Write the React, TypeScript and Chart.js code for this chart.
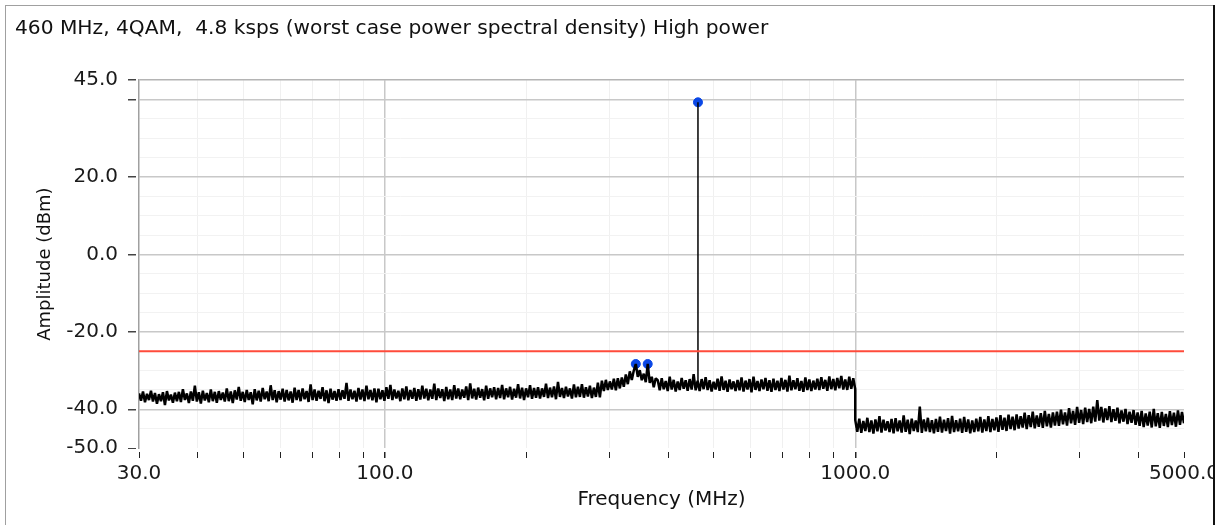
import React, { useEffect, useRef } from "react";
import { Chart, registerables } from "chart.js";

Chart.register(...registerables);

const FONT = "'DejaVu Sans', Verdana, sans-serif";

const titleText = "460 MHz, 4QAM,  4.8 ksps (worst case power spectral density) High power";
const xTitle = "Frequency (MHz)";
const yTitle = "Amplitude (dBm)";

// Sweep 1: 30 MHz .. 1000 MHz (log-spaced sweep points), amplitude in dBm
const lowSweepRange = [30, 1000];
const lowSweepDbm = [
  -35.9, -37.8, -35.4, -38.2, -36.0, -37.6, -35.2, -38.0, -35.8, -38.6, -36.1, -37.9, -35.6, -38.9, -35.3, -37.7, -36.2, -38.3, -35.7, -37.9,
  -35.5, -38.1, -34.8, -37.6, -35.9, -38.4, -35.4, -37.8, -33.9, -38.0, -35.6, -38.5, -35.2, -37.7, -35.8, -38.2, -34.9, -37.9, -35.5, -38.3,
  -35.3, -37.6, -35.7, -38.0, -34.6, -37.9, -35.4, -38.4, -35.1, -37.5, -34.2, -37.8, -35.5, -38.1, -35.0, -37.6, -35.6, -38.7, -34.8, -37.7,
  -35.2, -38.0, -34.5, -37.4, -35.4, -37.9, -33.8, -37.6, -35.1, -38.2, -35.3, -37.5, -34.7, -38.0, -35.0, -37.7, -35.4, -38.3, -34.4, -37.6,
  -35.0, -37.9, -34.6, -37.4, -35.3, -38.1, -33.6, -37.6, -34.9, -37.8, -35.2, -37.3, -34.3, -37.9, -35.1, -38.4, -34.7, -37.5, -35.3, -37.8,
  -34.8, -37.6, -35.1, -37.3, -33.2, -37.8, -34.9, -37.4, -35.2, -38.0, -34.5, -37.5, -34.9, -37.9, -33.9, -37.4, -35.0, -37.7, -34.6, -38.2,
  -34.7, -37.4, -35.1, -37.8, -34.3, -37.3, -33.7, -37.6, -34.9, -37.2, -35.2, -37.9, -34.6, -37.4, -34.1, -37.7, -35.0, -37.3, -34.5, -37.8,
  -34.8, -37.5, -33.9, -37.2, -34.7, -37.7, -34.9, -37.3, -33.4, -37.6, -34.6, -37.1, -34.8, -37.9, -34.2, -37.4, -34.9, -37.6, -33.8, -37.2,
  -34.6, -37.4, -34.9, -37.0, -34.1, -37.6, -33.3, -37.2, -34.7, -37.5, -34.4, -37.0, -34.8, -37.7, -33.9, -37.3, -34.6, -36.9, -34.3, -37.4,
  -34.5, -37.1, -33.7, -37.4, -34.6, -36.9, -34.2, -37.5, -34.7, -37.0, -33.5, -37.2, -34.4, -37.6, -34.6, -36.9, -33.8, -37.3, -34.5, -37.0,
  -34.3, -37.2, -34.6, -36.8, -33.4, -37.1, -34.4, -36.9, -34.1, -37.4, -32.9, -36.8, -34.5, -37.1, -34.2, -36.7, -34.6, -37.2, -33.6, -36.9,
  -34.2, -36.8, -33.5, -37.0, -34.3, -36.7, -33.9, -37.1, -34.4, -36.8, -33.1, -36.9, -32.6, -35.3, -32.4, -35.0, -32.8, -34.9, -32.1, -35.1,
  -32.0, -34.6, -31.8, -34.2, -31.0, -33.5, -30.2, -32.4, -30.0, -28.3, -31.6, -29.9, -32.5, -30.8, -33.0, -28.3, -33.2, -31.6, -34.3, -32.0,
  -32.5, -35.1, -32.0, -34.8, -32.7, -35.3, -31.6, -34.9, -32.4, -35.4, -32.8, -35.0, -31.9, -34.7, -32.5, -35.2, -32.2, -34.9, -30.9, -35.1,
  -32.6, -35.3, -32.2, -34.8, -31.7, -35.0, -32.5, -35.4, -32.9, -34.9, -32.1, -35.2, -31.5, -35.0, -32.6, -35.5, -32.3, -34.8, -32.8, -35.3,
  -32.4, -35.1, -31.8, -35.4, -32.6, -34.9, -32.2, -35.6, -31.6, -35.0, -32.7, -35.3, -32.3, -34.8, -31.9, -35.2, -32.5, -35.5, -32.1, -35.0,
  -32.6, -35.3, -31.9, -34.9, -32.4, -35.4, -31.3, -35.1, -32.5, -34.8, -32.0, -35.2, -32.7, -35.5, -31.8, -35.0, -32.3, -35.3, -32.6, -34.9,
  -32.1, -35.0, -31.7, -34.7, -32.4, -35.2, -31.5, -34.8, -32.2, -35.1, -31.9, -34.6, -31.4, -34.9, -32.3, -35.0, -31.6, -34.7, -32.0, -34.8,
];

// Sweep 2: 1000 MHz .. 5000 MHz
const highSweepRange = [1000, 5000];
const highSweepDbm = [
  -42.8, -45.8, -42.4, -46.1, -43.0, -45.6, -42.2, -45.9, -42.9, -46.3, -42.6, -45.7, -41.8, -46.0, -42.7, -45.5, -43.1, -45.9, -42.5, -46.2,
  -42.3, -45.7, -42.9, -46.0, -41.6, -45.8, -42.7, -46.4, -42.4, -45.6, -42.9, -45.9, -39.3, -46.1, -42.6, -45.7, -42.2, -45.9, -42.8, -46.2,
  -42.5, -45.8, -41.9, -46.0, -42.7, -45.6, -42.3, -46.3, -41.7, -45.9, -42.8, -45.7, -42.4, -46.1, -42.0, -45.8, -42.6, -46.2, -42.9, -45.9,
  -42.4, -45.7, -42.0, -46.0, -42.6, -45.6, -41.8, -45.9, -42.5, -45.4, -42.1, -45.8, -41.5, -45.3, -42.2, -45.6, -41.4, -45.1, -41.9, -45.4,
  -41.3, -45.0, -41.8, -44.7, -40.9, -45.1, -41.5, -44.6, -40.6, -44.9, -41.6, -44.5, -41.0, -44.8, -40.4, -44.4, -41.2, -44.7, -40.8, -44.2,
  -40.6, -44.3, -40.1, -43.9, -40.8, -44.2, -39.7, -43.6, -40.4, -44.0, -39.4, -43.5, -40.2, -43.8, -39.6, -43.3, -39.9, -43.6, -39.3, -43.2,
  -37.6, -42.9, -39.4, -43.4, -39.8, -42.8, -39.2, -43.3, -40.0, -43.0, -39.6, -43.6, -40.3, -43.2, -39.9, -43.8, -40.6, -43.5, -40.2, -44.0,
  -40.8, -44.3, -40.4, -44.6, -41.1, -44.2, -40.6, -44.7, -39.9, -44.4, -41.0, -44.8, -40.7, -44.3, -41.2, -44.6, -40.5, -44.1, -40.9, -44.5,
  -40.3, -44.0, -40.7, -43.6,
];

const limitFreq = [30, 5000];
const limitDbm = [-25, -25];

const carrierFreq = 463;
const carrierBaseDbm = -33.2;
const carrierPeakDbm = 39.3;

const markerFreq = [341.5, 362, 463];
const markerDbm = [-28.3, -28.3, 39.3];

const xTickValues = [30, 40, 50, 60, 70, 80, 90, 100, 200, 300, 400, 500, 600, 700, 800, 900, 1000, 2000, 3000, 4000, 5000];
const xLabeledTicks = [30, 100, 1000, 5000];
const xMajorGrid = [100, 1000];

const yTickValues = [-50, -45, -40, -35, -30, -25, -20, -15, -10, -5, 0, 5, 10, 15, 20, 25, 30, 35, 40, 45];
const yLabeledTicks = [-50, -40, -20, 0, 20, 45];
const yMarkedTicks = [-50, -40, -20, 0, 20, 40, 45];
const yMajorGrid = [-40, -20, 0, 20, 40, 45];

function sweepPoints(range: number[], values: number[]) {
  const n = values.length;
  return values.map((v, i) => ({
    x: range[0] * Math.pow(range[1] / range[0], i / (n - 1)),
    y: v,
  }));
}

export default function App() {
  const canvasRef = useRef<HTMLCanvasElement | null>(null);

  useEffect(() => {
    const canvas = canvasRef.current;
    if (!canvas) return;
    Chart.defaults.font.family = FONT;

    const trace = [...sweepPoints(lowSweepRange, lowSweepDbm), ...sweepPoints(highSweepRange, highSweepDbm)];

    const chart = new Chart(canvas, {
      type: "line",
      data: {
        datasets: [
          {
            label: "limit",
            data: limitFreq.map((f, i) => ({ x: f, y: limitDbm[i] })),
            borderColor: "#ff4b3b",
            borderWidth: 2,
            pointRadius: 0,
          },
          {
            label: "trace",
            data: trace,
            borderColor: "#000000",
            borderWidth: 2.5,
            borderJoinStyle: "bevel",
            pointRadius: 0,
            tension: 0,
          },
          {
            label: "carrier",
            data: [
              { x: carrierFreq, y: carrierBaseDbm },
              { x: carrierFreq, y: carrierPeakDbm },
            ],
            borderColor: "#000000",
            borderWidth: 1.5,
            pointRadius: 0,
          },
          {
            label: "markers",
            data: markerFreq.map((f, i) => ({ x: f, y: markerDbm[i] })),
            showLine: false,
            pointRadius: 4.5,
            pointBackgroundColor: "#0a47e6",
            pointBorderColor: "#0a47e6",
            pointBorderWidth: 1,
          },
        ],
      },
      options: {
        responsive: false,
        animation: false,
        devicePixelRatio: 1,
        layout: { padding: { left: 15, right: 41, top: 0, bottom: 0 } },
        plugins: {
          legend: { display: false },
          tooltip: { enabled: false },
          title: {
            display: true,
            text: titleText,
            align: "start",
            color: "#111111",
            font: { family: FONT, size: 20.2, weight: "normal" },
            padding: { top: 17, bottom: 39 },
          },
        },
        scales: {
          x: {
            type: "logarithmic",
            min: 30,
            max: 5000,
            afterBuildTicks: (scale: any) => {
              scale.ticks = xTickValues.map((v) => ({ value: v }));
            },
            afterFit: (scale: any) => {
              scale.height = 77;
            },
            ticks: {
              autoSkip: false,
              maxRotation: 0,
              minRotation: 0,
              padding: 4,
              color: "#1a1a1a",
              font: { family: FONT, size: 20 },
              callback: (value: any) => (xLabeledTicks.includes(Number(value)) ? Number(value).toFixed(1) : ""),
            },
            grid: {
              color: (ctx: any) => {
                const v = ctx.tick ? ctx.tick.value : null;
                if (v === 30 || v === 5000) return "rgba(0,0,0,0)";
                return xMajorGrid.includes(v) ? "#c8c8c8" : "#f0f0f0";
              },
              lineWidth: (ctx: any) => (ctx.tick && xMajorGrid.includes(ctx.tick.value) ? 1.5 : 1),
              tickColor: "#222222",
              tickLength: 10,
              tickBorderDash: [0, 4, 6, 30],
              drawTicks: true,
            },
            border: { display: false },
            title: {
              display: true,
              text: xTitle,
              color: "#111111",
              font: { family: FONT, size: 20 },
              padding: { top: 0, bottom: 13 },
            },
          },
          y: {
            type: "linear",
            min: -50,
            max: 45,
            afterBuildTicks: (scale: any) => {
              scale.ticks = yTickValues.map((v) => ({ value: v }));
            },
            afterFit: (scale: any) => {
              scale.width = 124;
            },
            ticks: {
              autoSkip: false,
              padding: 10,
              color: "#1a1a1a",
              font: { family: FONT, size: 20 },
              callback: (value: any) => (yLabeledTicks.includes(Number(value)) ? Number(value).toFixed(1) : ""),
            },
            grid: {
              color: (ctx: any) => {
                const v = ctx.tick ? ctx.tick.value : null;
                if (v === -50) return "rgba(0,0,0,0)";
                if (v === 45) return "#b4b4b4";
                return yMajorGrid.includes(v) ? "#c8c8c8" : "#f2f2f2";
              },
              lineWidth: (ctx: any) => (ctx.tick && yMajorGrid.includes(ctx.tick.value) ? 1.5 : 1),
              tickColor: (ctx: any) => (ctx.tick && yMarkedTicks.includes(ctx.tick.value) ? "#444444" : "rgba(0,0,0,0)"),
              tickLength: 11,
              tickBorderDash: [8, 30],
            },
            border: { display: true, color: "#a0a0a0", width: 1.5 },
            title: {
              display: true,
              text: yTitle,
              color: "#111111",
              font: { family: FONT, size: 18 },
              padding: { top: 20, bottom: 0 },
            },
          },
        },
      },
    } as any);

    return () => chart.destroy();
  }, []);

  return (
    <div style={{ position: "absolute", left: 0, top: 0, width: 1225, height: 525, background: "#ffffff", overflow: "hidden" }}>
      <canvas ref={canvasRef} width={1225} height={525} style={{ position: "absolute", left: 0, top: 0 }} />
      <div
        style={{
          position: "absolute",
          left: 5,
          top: 5,
          width: 1207,
          height: 540,
          borderTop: "1px solid #a0a0a0",
          borderLeft: "1px solid #a0a0a0",
          pointerEvents: "none",
        }}
      />
      <div
        style={{
          position: "absolute",
          left: 1213,
          top: 5,
          width: 12,
          height: 525,
          background: "#ffffff",
          borderLeft: "2px solid #111111",
        }}
      />
    </div>
  );
}
